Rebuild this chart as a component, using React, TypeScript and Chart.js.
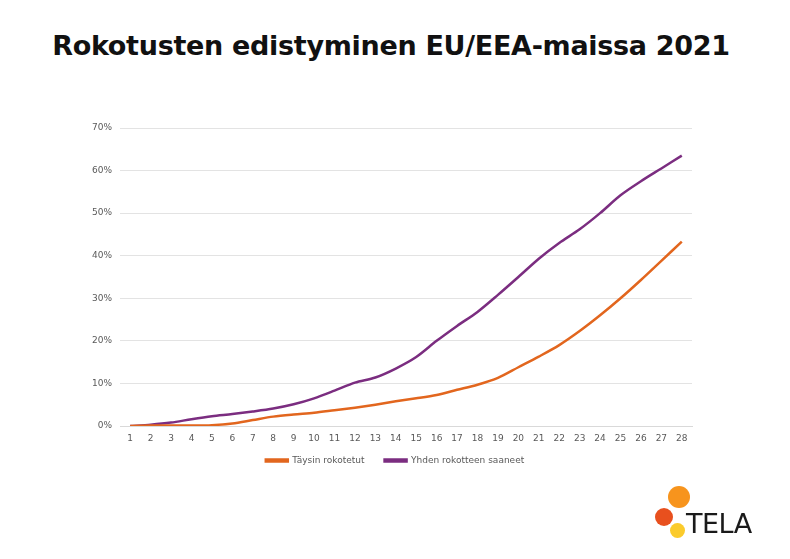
import React, { useEffect, useRef } from "react";
import { Chart, registerables } from "chart.js";

Chart.register(...registerables);

const categories = ["1","2","3","4","5","6","7","8","9","10","11","12","13","14","15","16","17","18","19","20","21","22","23","24","25","26","27","28"];
const fullyVaccinated = [0, 0.1, 0.1, 0.1, 0.2, 0.6, 1.4, 2.2, 2.7, 3.1, 3.7, 4.3, 5.0, 5.8, 6.5, 7.3, 8.5, 9.7, 11.3, 13.8, 16.3, 19.0, 22.3, 26.0, 30.0, 34.3, 38.8, 43.3];
const oneDose = [0, 0.3, 0.8, 1.6, 2.3, 2.8, 3.4, 4.1, 5.1, 6.5, 8.3, 10.2, 11.4, 13.5, 16.2, 20.0, 23.5, 26.8, 30.8, 35.0, 39.3, 43.0, 46.2, 50.0, 54.2, 57.5, 60.5, 63.5];
const seriesNames = ["Täysin rokotetut", "Yhden rokotteen saaneet"];
const yMax = 70;
const yStep = 10;

const ORANGE = "#E2661E";
const PURPLE = "#7B2D80";

const legendShift = {
  id: "legendShift",
  afterLayout(chart: any) {
    const lg = chart.legend;
    if (!lg) return;
    const dy = 12;
    lg.left = 0;
    lg.right = chart.width;
    lg.width = chart.width;
    lg.top -= dy;
    lg.bottom -= dy;
  },
};

export default function App() {
  const ref = useRef<HTMLCanvasElement>(null);
  useEffect(() => {
    const ctx = ref.current!;
    const chart = new Chart(ctx, {
      type: "line",
      data: {
        labels: categories,
        datasets: [
          { label: seriesNames[0], data: fullyVaccinated, borderColor: ORANGE, backgroundColor: ORANGE, borderWidth: 2.5, pointRadius: 0, tension: 0.3 },
          { label: seriesNames[1], data: oneDose, borderColor: PURPLE, backgroundColor: PURPLE, borderWidth: 2.5, pointRadius: 0, tension: 0.3 },
        ],
      },
      plugins: [legendShift],
      options: {
        animation: false,
        responsive: false,
        maintainAspectRatio: false,
        layout: { padding: { left: 60, right: 98, top: 128, bottom: 72 } },
        plugins: {
          legend: {
            position: "bottom",
            labels: {
              boxWidth: 22,
              boxHeight: 2,
              padding: 20,
              color: "#595959",
              font: { family: "'DejaVu Sans', sans-serif", size: 9 },
            },
          },
          tooltip: { enabled: false },
          title: { display: false },
        },
        scales: {
          x: {
            offset: true,
            grid: { display: false, tickLength: 0 },
            border: { display: true, color: "#d9d9d9" },
            ticks: { color: "#595959", font: { family: "'DejaVu Sans', sans-serif", size: 9 }, maxRotation: 0, autoSkip: false, padding: 7 },
            afterFit: (s: any) => { s.height = 22; },
          },
          y: {
            min: 0,
            max: yMax,
            ticks: { stepSize: yStep, color: "#595959", font: { family: "'DejaVu Sans', sans-serif", size: 9 }, padding: 8, callback: (v: any) => v + "%" },
            grid: { color: "#e3e3e3", drawTicks: false },
            border: { display: false },
            afterFit: (s: any) => { s.width = 60; },
          },
        },
      },
    });
    return () => chart.destroy();
  }, []);

  return (
    <div style={{ position: "fixed", left: 0, top: 0, width: 790, height: 559, background: "#fff", overflow: "hidden" }}>
      <div style={{ position: "absolute", left: -4, top: 30, width: 790, textAlign: "center", fontFamily: "'DejaVu Sans', sans-serif", fontWeight: "bold", fontSize: 27, color: "#111", letterSpacing: -0.3 }}>
        Rokotusten edistyminen EU/EEA-maissa 2021
      </div>
      <canvas ref={ref} width={790} height={559} style={{ position: "absolute", left: 0, top: 0 }} />
      <div style={{ position: "absolute", left: 668, top: 486, width: 22, height: 22, borderRadius: "50%", background: "#F7941D" }} />
      <div style={{ position: "absolute", left: 655, top: 508, width: 18, height: 18, borderRadius: "50%", background: "#E8501E" }} />
      <div style={{ position: "absolute", left: 670, top: 523, width: 15, height: 15, borderRadius: "50%", background: "#FBCB2C" }} />
      <div style={{ position: "absolute", left: 686, top: 508, fontFamily: "'DejaVu Sans', sans-serif", fontSize: 27, color: "#1a1a1a", letterSpacing: -0.5 }}>
        TELA
      </div>
    </div>
  );
}
